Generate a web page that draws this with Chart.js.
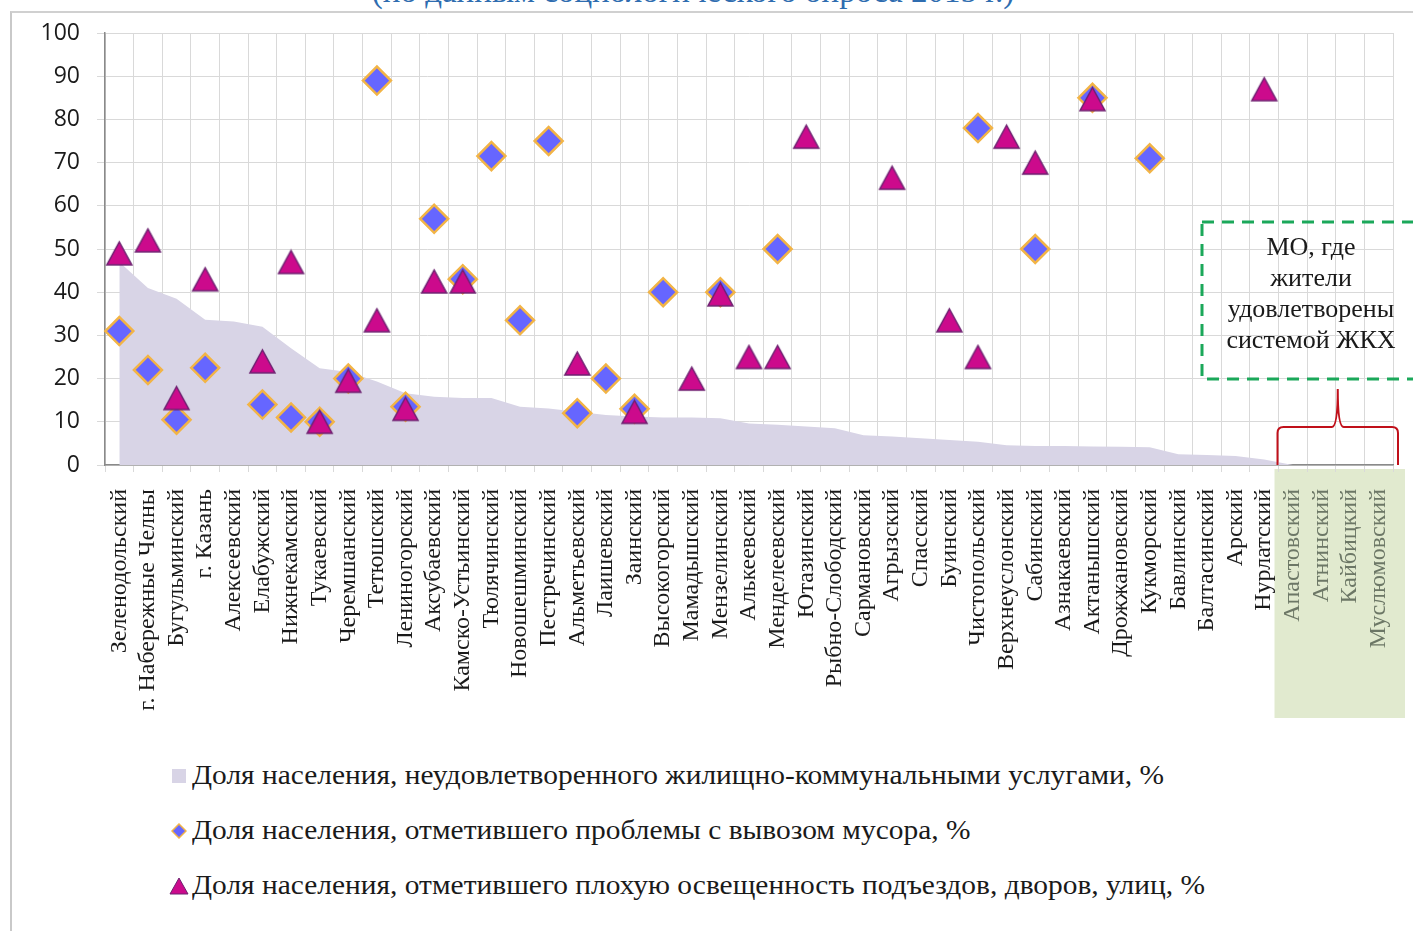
<!DOCTYPE html>
<html lang="ru">
<head>
<meta charset="utf-8">
<title>Удовлетворенность жилищно-коммунальными услугами</title>
<script src="https://cdn.jsdelivr.net/npm/chart.js@4.4.1/dist/chart.umd.min.js"></script>
<style>
  html, body { margin: 0; padding: 0; background: #fff; overflow: hidden; }
  body { width: 1413px; height: 931px; position: relative; }
  #frame { position: absolute; left: 10px; top: 11px; width: 1500px; height: 1000px;
           border-left: 2px solid #c9c9c9; border-top: 2px solid #d0d0d0; }
  #title { position: absolute; left: 0; top: -27px; width: 1386px; text-align: center;
           font: 33px "Liberation Serif", serif; color: #2f6db0; white-space: nowrap; }
  #chartBox { position: absolute; left: 0; top: 0; width: 1413px; height: 740px; }
  #note { position: absolute; left: 1203px; top: 231px; width: 216px; text-align: center;
          font: 26px/31px "Liberation Serif", serif; color: #1a1a1a; }
  #legend { position: absolute; left: 168px; top: 748px; font: 27px "Liberation Serif", serif; color: #1a1a1a; }
  #legend .row { height: 55px; display: flex; align-items: center; white-space: nowrap; }
  #legend .mk { width: 22px; display: flex; justify-content: center; margin-right: 2px; }
  #legend .txt { display: inline-block; transform: scaleX(1.09); transform-origin: left center; }
</style>
</head>
<body>
<div id="frame"></div>
<div id="title">(по данным социологического опроса 2015 г.)</div>
<div id="chartBox"><canvas id="chart"></canvas></div>
<div id="note">МО, где<br>жители<br>удовлетворены<br>системой ЖКХ</div>
<div id="legend"></div>
<script>
// Districts (municipal units) in the order of the chart
const districts = [
  'Зеленодольский', 'г. Набережные Челны', 'Бугульминский', 'г. Казань', 'Алексеевский',
  'Елабужский', 'Нижнекамский', 'Тукаевский', 'Черемшанский', 'Тетюшский',
  'Лениногорский', 'Аксубаевский', 'Камско-Устьинский', 'Тюлячинский', 'Новошешминский',
  'Пестречинский', 'Альметьевский', 'Лаишевский', 'Заинский', 'Высокогорский',
  'Мамадышский', 'Мензелинский', 'Алькеевский', 'Менделеевский', 'Ютазинский',
  'Рыбно-Слободский', 'Сармановский', 'Агрызский', 'Спасский', 'Буинский',
  'Чистопольский', 'Верхнеуслонский', 'Сабинский', 'Азнакаевский', 'Актанышский',
  'Дрожжановский', 'Кукморский', 'Бавлинский', 'Балтасинский', 'Арский',
  'Нурлатский', 'Апастовский', 'Атнинский', 'Кайбицкий', 'Муслюмовский'
];

// Share unsatisfied with housing and communal services, %
const unsatisfiedShare = [
  47, 41, 38.5, 33.6, 33.2, 32, 27, 22.4, 21.5, 19.3,
  16.6, 15.8, 15.5, 15.5, 13.5, 13.1, 12.3, 11.6, 11.2, 11,
  11, 10.8, 9.6, 9.3, 8.9, 8.5, 6.9, 6.6, 6.2, 5.8,
  5.4, 4.6, 4.4, 4.4, 4.3, 4.2, 4.1, 2.5, 2.3, 2.1,
  1.3, 0, 0, 0, 0
];

// Share reporting problems with garbage collection, %
const garbageShare = [
  31, 22, 10.5, 22.5, null, 14, 11, 10, 20, 89,
  13.5, 57, 43, 71.5, 33.5, 75, 12, 20, 13, 40,
  null, 40, null, 50, null, null, null, null, null, null,
  78, null, 50, null, 85, null, 71, null, null, null,
  null, null, null, null, null
];

// Share reporting poor lighting of entrances, yards, streets, %
const lightingShare = [
  49, 52, 15.5, 43, null, 24, 47, 10, 19.5, 33.5,
  13, 42.5, 42.5, null, null, null, 23.5, null, 12.3, null,
  20, 39.5, 25, 25, 76, null, null, 66.5, null, 33.5,
  25, 76, 70, null, 84.7, null, null, null, null, null,
  87, null, null, null, null
];

const yTicks = [0, 10, 20, 30, 40, 50, 60, 70, 80, 90, 100];

const seriesNames = [
  'Доля населения, неудовлетворенного жилищно-коммунальными услугами, %',
  'Доля населения, отметившего проблемы  с вывозом мусора, %',
  'Доля населения, отметившего плохую освещенность подъездов, дворов, улиц, %'
];

const satisfiedFrom = 41; // first district where everyone is satisfied

const AREA_COLOR = '#d8d4e6';
const DIAMOND_FILL = '#6666ff';
const DIAMOND_EDGE = '#f2b446';
const TRI_FILL = '#cc0a8c';
const TRI_EDGE = '#6d2170';

// triangle marker centred on its bounding box, like the office chart markers
function makeTriangle(w, h) {
  const c = document.createElement('canvas');
  c.width = w + 4;
  c.height = h + 4;
  const g = c.getContext('2d');
  g.beginPath();
  g.moveTo(c.width / 2, 2);
  g.lineTo(c.width - 2, h + 2);
  g.lineTo(2, h + 2);
  g.closePath();
  g.fillStyle = TRI_FILL;
  g.fill();
  g.lineWidth = 1.5;
  g.strokeStyle = TRI_EDGE;
  g.stroke();
  return c;
}
const triangleMarker = makeTriangle(25, 23);

// green shading under the last labels, dashed note box and the red brace
const decorations = {
  id: 'decorations',
  beforeDraw(chart) {
    const x = chart.scales.x;
    const g = chart.ctx;
    const half = (x.getPixelForValue(1) - x.getPixelForValue(0)) / 2;
    const left = x.getPixelForValue(satisfiedFrom) - half - 4;
    const right = x.getPixelForValue(districts.length - 1) + half + 12;
    g.save();
    g.fillStyle = '#e1eacf';
    g.fillRect(left, x.top + 4, right - left, 249);
    g.restore();
  },
  afterDraw(chart) {
    const x = chart.scales.x;
    const y = chart.scales.y;
    const g = chart.ctx;
    const half = (x.getPixelForValue(1) - x.getPixelForValue(0)) / 2;
    const left = x.getPixelForValue(satisfiedFrom) - half - 1;
    const right = x.getPixelForValue(districts.length - 1) + half + 5;
    const mid = (left + right) / 2;
    const base = y.getPixelForValue(0);
    const bar = base - 38;
    const peak = base - 76;
    const r = 6;

    g.save();
    g.strokeStyle = '#c0101a';
    g.lineWidth = 2;
    g.beginPath();
    g.moveTo(left, base);
    g.lineTo(left, bar + r);
    g.quadraticCurveTo(left, bar, left + r, bar);
    g.lineTo(mid - r, bar);
    g.quadraticCurveTo(mid, bar, mid, peak);
    g.quadraticCurveTo(mid, bar, mid + r, bar);
    g.lineTo(right - r, bar);
    g.quadraticCurveTo(right, bar, right, bar + r);
    g.lineTo(right, base);
    g.stroke();

    // dashed note frame, running off the right edge
    g.strokeStyle = '#1ba85a';
    g.lineWidth = 3;
    g.setLineDash([12, 8]);
    g.strokeRect(1202, 222, 240, 157);
    g.restore();
  }
};

function renderChart() {
  const ctx = document.getElementById('chart').getContext('2d');

  new Chart(ctx, {
    type: 'line',
    data: {
      labels: districts,
      datasets: [
        {
          label: seriesNames[0],
          data: unsatisfiedShare,
          fill: 'origin',
          backgroundColor: AREA_COLOR,
          borderWidth: 0,
          pointRadius: 0,
          tension: 0,
          order: 3
        },
        {
          label: seriesNames[1],
          data: garbageShare,
          showLine: false,
          pointStyle: 'rectRot',
          pointRadius: 14,
          pointBackgroundColor: DIAMOND_FILL,
          pointBorderColor: DIAMOND_EDGE,
          pointBorderWidth: 2.5,
          order: 2
        },
        {
          label: seriesNames[2],
          data: lightingShare,
          showLine: false,
          pointStyle: triangleMarker,
          pointRadius: 13,
          order: 1
        }
      ]
    },
    options: {
      responsive: true,
      maintainAspectRatio: false,
      animation: false,
      layout: { padding: { left: 0, top: 33, right: 20, bottom: 0 } },
      plugins: {
        legend: { display: false },
        tooltip: { enabled: false }
      },
      scales: {
        x: {
          offset: true,
          grid: { offset: true, color: '#d9d9d9', tickLength: 7 },
          border: { color: '#8a8a8a', width: 1.5 },
          ticks: {
            autoSkip: false,
            minRotation: 90,
            maxRotation: 90,
            padding: 17,
            font: { family: '"Liberation Serif", serif', size: 24 },
            color: c => (c.index >= satisfiedFrom ? '#6c7766' : '#1a1a1a')
          },
          afterFit: scale => {
            scale.height = 275;
            scale.paddingLeft = 0;
            scale.paddingRight = 0;
          }
        },
        y: {
          min: 0,
          max: 100,
          afterBuildTicks: scale => { scale.ticks = yTicks.map(v => ({ value: v })); },
          grid: { color: '#d9d9d9', tickLength: 8 },
          border: { color: '#8a8a8a', width: 1.5 },
          ticks: {
            padding: 17,
            font: { family: '"Open Sans", sans-serif', size: 23 },
            color: '#1a1a1a'
          },
          afterFit: scale => { scale.width = 105; }
        }
      }
    },
    plugins: [decorations]
  });
}

function renderLegend() {
  const box = document.getElementById('legend');
  const markers = [
    '<svg width="14" height="14"><rect x="0" y="0" width="14" height="14" fill="' + AREA_COLOR + '"/></svg>',
    '<svg width="16" height="16"><path d="M8 1 L15 8 L8 15 L1 8 Z" fill="' + DIAMOND_FILL + '" stroke="' + DIAMOND_EDGE + '" stroke-width="1.5"/></svg>',
    '<svg width="20" height="18"><path d="M10 1 L19 17 L1 17 Z" fill="' + TRI_FILL + '" stroke="' + TRI_EDGE + '" stroke-width="1"/></svg>'
  ];
  seriesNames.forEach((name, i) => {
    const row = document.createElement('div');
    row.className = 'row';
    row.innerHTML = '<span class="mk">' + markers[i] + '</span><span class="txt"></span>';
    row.lastChild.textContent = name;
    box.appendChild(row);
  });
}

renderChart();
renderLegend();
</script>
</body>
</html>
